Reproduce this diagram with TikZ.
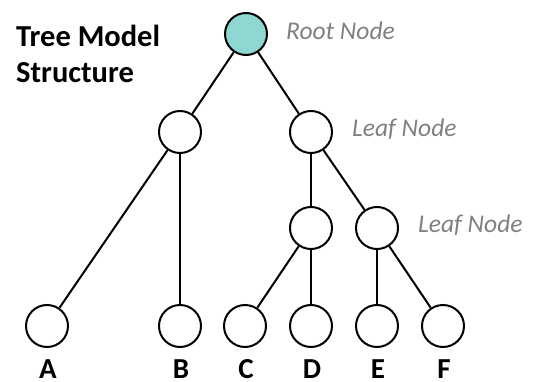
\documentclass[tikz,border=0pt]{standalone}
\usepackage{fontspec}
\setmainfont{Carlito}
\definecolor{rootfill}{RGB}{142,216,209}
\definecolor{annot}{RGB}{128,128,128}
\begin{document}
\begin{tikzpicture}[x=1pt,y=-1pt,
  tnode/.style={circle,draw=black,line width=2pt,fill=white,inner sep=0pt,minimum size=42pt},
  edge/.style={line width=2pt,draw=black},
  title/.style={font=\fontsize{30.5}{34}\selectfont\bfseries,anchor=base west,inner sep=0pt},
  letter/.style={font=\fontsize{29}{32}\selectfont\bfseries,anchor=base,inner sep=0pt},
  note/.style={font=\fontsize{25.5}{28}\selectfont\itshape,text=annot,anchor=base west,inner sep=0pt}]
\useasboundingbox (0,0) rectangle (539,382);
\node[tnode,fill=rootfill] (root) at (246,34) {};
\node[tnode] (l1) at (180,132) {};
\node[tnode] (r1) at (311,132) {};
\node[tnode] (p2) at (311,228) {};
\node[tnode] (q2) at (377,228) {};
\node[tnode] (a) at (47,326) {};
\node[tnode] (b) at (180,326) {};
\node[tnode] (c) at (245,326) {};
\node[tnode] (d) at (311,326) {};
\node[tnode] (e) at (377,326) {};
\node[tnode] (f) at (443,326) {};
\draw[edge] (root) -- (l1);
\draw[edge] (root) -- (r1);
\draw[edge] (l1) -- (a);
\draw[edge] (l1) -- (b);
\draw[edge] (r1) -- (p2);
\draw[edge] (r1) -- (q2);
\draw[edge] (p2) -- (c);
\draw[edge] (p2) -- (d);
\draw[edge] (q2) -- (e);
\draw[edge] (q2) -- (f);
\node[letter] (la) at (48,379) {A};
\node[letter] (lb) at (181,379) {B};
\node[letter] (lc) at (246,379) {C};
\node[letter] (ld) at (312,379) {D};
\node[letter] (le) at (378,379) {E};
\node[letter] (lf) at (444,379) {F};
\node[title] (t1) at (16,47) {Tree Model};
\node[title] (t2) at (16,83) {Structure};
\node[note] (n1) at (286,40) {Root Node};
\node[note] (n2) at (352,137) {Leaf Node};
\node[note] (n3) at (418,233) {Leaf Node};
\end{tikzpicture}
\end{document}
